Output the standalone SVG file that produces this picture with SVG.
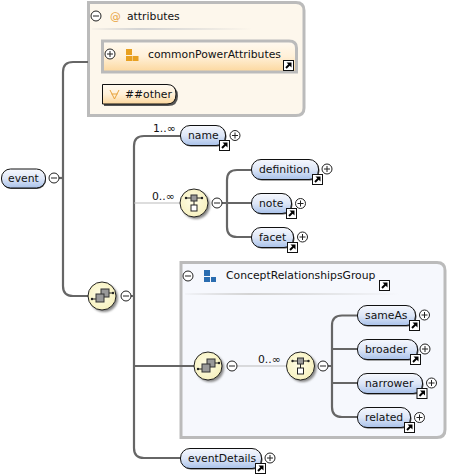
<svg xmlns="http://www.w3.org/2000/svg" width="463" height="474" viewBox="0 0 463 474">
<style>
text{font-family:"DejaVu Sans",sans-serif;font-size:10.8px;fill:#111}
.c{fill:none;stroke:#666;stroke-width:2.2}
.t{fill:none;stroke:#bbb;stroke-width:1}
.p{fill:url(#blue);stroke:#111;stroke-width:1}
.ps{fill:#555}
.comp{fill:url(#yel);stroke:#222;stroke-width:1}
.box{stroke:#bbb;stroke-width:3}
</style>
<defs>
<linearGradient id="blue" x1="0" y1="0" x2="0" y2="1"><stop offset="0" stop-color="#f6f8fd"/><stop offset=".5" stop-color="#dde6f7"/><stop offset="1" stop-color="#a9c2ea"/></linearGradient>
<linearGradient id="org" x1="0" y1="0" x2="0" y2="1"><stop offset="0" stop-color="#fffaf1"/><stop offset=".5" stop-color="#fff0d8"/><stop offset="1" stop-color="#fcd79c"/></linearGradient>
<linearGradient id="fade" x1="0" y1="0" x2="1" y2="0"><stop offset="0" stop-color="#ccc" stop-opacity=".1"/><stop offset=".3" stop-color="#d4d4d4"/><stop offset="1" stop-color="#ccc" stop-opacity="0"/></linearGradient>
<radialGradient id="yel" cx=".45" cy=".45" r=".6"><stop offset="0" stop-color="#fffde6"/><stop offset="1" stop-color="#f6f0bc"/></radialGradient>
<filter id="blur" x="-30%" y="-30%" width="160%" height="160%"><feGaussianBlur stdDeviation="1"/></filter>
<g id="minus"><circle r="5" fill="#fff" stroke="#222"/><path d="M-3 0H3" stroke="#222"/></g>
<g id="plus"><circle r="5" fill="#fff" stroke="#222"/><path d="M-3 0H3M0-3V3" stroke="#222"/></g>
<g id="link"><rect x=".5" y=".5" width="10" height="10" fill="#fff" stroke="#111"/><path d="M3 8L7 4" stroke="#000" stroke-width="2"/><path d="M3.500 2.500H8.500V7.500Z" fill="#000"/></g>
<g id="seq"><circle cx="2" cy="2" r="14" fill="#888" filter="url(#blur)"/><circle r="14" class="comp"/><path d="M-10 3H-5M5-3H11" stroke="#222"/><circle cx="-10" cy="3" r="1.200" fill="#222"/><circle cx="11" cy="-3" r="1.200" fill="#222"/><rect x="-1" y="-7" width="8" height="8" fill="#999" stroke="#333"/><rect x="-6" y="-2" width="8" height="8" fill="#999" stroke="#333"/></g>
<g id="choice"><circle cx="2" cy="2" r="14" fill="#888" filter="url(#blur)"/><circle r="14" class="comp"/><path d="M-8-5H8M0-2V2" stroke="#222"/><rect x="-3" y="-8" width="6" height="6" fill="#999" stroke="#333"/><circle cx="-8" cy="-5" r="1.200" fill="#222"/><circle cx="8" cy="-5" r="1.200" fill="#222"/><rect x="-3" y="2" width="6" height="6" fill="#fff" stroke="#222"/></g>
</defs>
<rect width="463" height="474" fill="#fff"/>
<g id="attributes">
<path class="box" d="M88.500 2.500H296Q304 2.500 304 10.500V108Q304 115.500 296 115.500H88.500Z" fill="#fdf7ec"/>
<rect x="92" y="28" width="160" height="2" fill="url(#fade)"/>
<use href="#minus" x="96" y="16"/>
<text x="110" y="20" style="fill:#e8a33d">@</text>
<text x="127" y="19.500">attributes</text>
</g>
<g id="ConceptRelationshipsGroup">
<path class="box" d="M181 262.500H437Q445 262.500 445 270.500V429.500Q445 437.500 437 437.500H181Z" fill="#f6f8fd"/>
<rect x="185" y="293" width="215" height="2" fill="url(#fade)"/>
<use href="#minus" x="188" y="276"/>
<rect x="204" y="270" width="6" height="6" fill="#2a6db0"/><rect x="204" y="277" width="6" height="5" fill="#2a6db0"/><rect x="211" y="277" width="5" height="5" fill="#2a6db0"/>
<text x="226" y="279">ConceptRelationshipsGroup</text>
<use href="#link" x="379" y="280"/>
</g>
<g id="connectors">
<path class="c" d="M88 62H73Q63 62 63 72V286Q63 296 73 296H90"/>
<path class="c" d="M59 178H63"/>
<path class="c" d="M182 136H144Q134 136 134 146V448Q134 458 144 458H181"/>
<path class="t" d="M134 203H181"/>
<path class="c" d="M131 296H134M134 366H195"/>
<path class="c" d="M252 170H237Q227 170 227 180V227Q227 237 237 237H252M227 203H252M222 203H227"/>
<path class="t" d="M237 366H288"/>
<path class="c" d="M358 315.500H342Q332 315.500 332 325.500V407Q332 417 342 417H358M332 349H358M332 383H358M328 366H332"/>
</g>
<g id="commonPowerAttributes">
<path d="M102.500 41H289Q296.500 41 296.500 48V72H102.500Z" fill="url(#org)" stroke="#bbb" stroke-width="3"/>
<use href="#plus" x="110" y="54"/>
<rect x="126" y="49" width="6" height="6" fill="#e8a020"/><rect x="126" y="56" width="6" height="5" fill="#e8a020"/><rect x="132.500" y="56" width="6" height="5" fill="#e8a020"/>
<text x="148" y="58">commonPowerAttributes</text>
<use href="#link" x="283" y="60"/>
</g>
<g id="other">
<path d="M104 86H168Q178 86 178 96Q178 106 168 106H104Z" class="ps"/>
<path d="M102.500 84.500H167Q176 84.500 176 94Q176 104 167 104H102.500Z" fill="url(#org)" stroke="#111"/>
<path d="M110 90L114.500 99L119 90M111.500 94H117.500" fill="none" stroke="#e8a33d"/>
<text x="125" y="98">##other</text>
</g>
<g id="event">
<rect x="2" y="170" width="44" height="19" rx="9" class="ps"/>
<rect x="1.500" y="169" width="44" height="19" rx="9" class="p"/>
<text x="8" y="182">event</text>
<use href="#minus" x="54" y="178"/>
</g>
<g id="sequence1">
<use href="#seq" x="102" y="296"/>
<use href="#minus" x="126" y="296"/>
</g>
<g id="name">
<text x="153" y="132">1..∞</text>
<rect x="181.500" y="126.500" width="45" height="20" rx="9.500" class="ps"/>
<rect x="180.500" y="125.500" width="45" height="20" rx="9.500" class="p"/>
<text x="188" y="139">name</text>
<use href="#link" x="219" y="140"/>
<use href="#plus" x="235" y="135.500"/>
</g>
<g id="choice1">
<text x="152" y="200">0..∞</text>
<use href="#choice" x="194" y="203"/>
<use href="#minus" x="217" y="203"/>
</g>
<g id="definition">
<rect x="252.500" y="160.500" width="67" height="20" rx="9.500" class="ps"/>
<rect x="251.500" y="159.500" width="67" height="20" rx="9.500" class="p"/>
<text x="259" y="173">definition</text>
<use href="#link" x="312" y="174"/>
<use href="#plus" x="327" y="169"/>
</g>
<g id="note">
<rect x="252.500" y="194.500" width="40" height="20" rx="9.500" class="ps"/>
<rect x="251.500" y="193.500" width="40" height="20" rx="9.500" class="p"/>
<text x="259" y="207">note</text>
<use href="#link" x="286" y="208"/>
<use href="#plus" x="300.500" y="203.500"/>
</g>
<g id="facet">
<rect x="252.500" y="228.500" width="42" height="20" rx="9.500" class="ps"/>
<rect x="251.500" y="227.500" width="42" height="20" rx="9.500" class="p"/>
<text x="259" y="241">facet</text>
<use href="#link" x="287" y="242"/>
<use href="#plus" x="302.500" y="237"/>
</g>
<g id="sequence2">
<use href="#seq" x="208" y="366"/>
<use href="#minus" x="232" y="366"/>
<text x="258" y="363">0..∞</text>
</g>
<g id="choice2">
<use href="#choice" x="300.500" y="366"/>
<use href="#minus" x="323" y="366"/>
</g>
<g id="sameAs">
<rect x="358.500" y="306.500" width="58" height="20" rx="9.500" class="ps"/>
<rect x="357.500" y="305.500" width="58" height="20" rx="9.500" class="p"/>
<text x="365" y="319">sameAs</text>
<use href="#link" x="409" y="320"/>
<use href="#plus" x="424.500" y="315"/>
</g>
<g id="broader">
<rect x="358.500" y="340.500" width="60" height="20" rx="9.500" class="ps"/>
<rect x="357.500" y="339.500" width="60" height="20" rx="9.500" class="p"/>
<text x="365" y="353">broader</text>
<use href="#link" x="410" y="354"/>
<use href="#plus" x="425" y="349"/>
</g>
<g id="narrower">
<rect x="358.500" y="374.500" width="65" height="20" rx="9.500" class="ps"/>
<rect x="357.500" y="373.500" width="65" height="20" rx="9.500" class="p"/>
<text x="365" y="387">narrower</text>
<use href="#link" x="416.500" y="388"/>
<use href="#plus" x="431.500" y="383"/>
</g>
<g id="related">
<rect x="358.500" y="408.500" width="53" height="20" rx="9.500" class="ps"/>
<rect x="357.500" y="407.500" width="53" height="20" rx="9.500" class="p"/>
<text x="365" y="421">related</text>
<use href="#link" x="404" y="422"/>
<use href="#plus" x="419.500" y="417.500"/>
</g>
<g id="eventDetails">
<rect x="181.500" y="449.500" width="81" height="20" rx="9.500" class="ps"/>
<rect x="180.500" y="448.500" width="81" height="20" rx="9.500" class="p"/>
<text x="188" y="462">eventDetails</text>
<use href="#link" x="255" y="463"/>
<use href="#plus" x="270" y="458"/>
</g>
</svg>
